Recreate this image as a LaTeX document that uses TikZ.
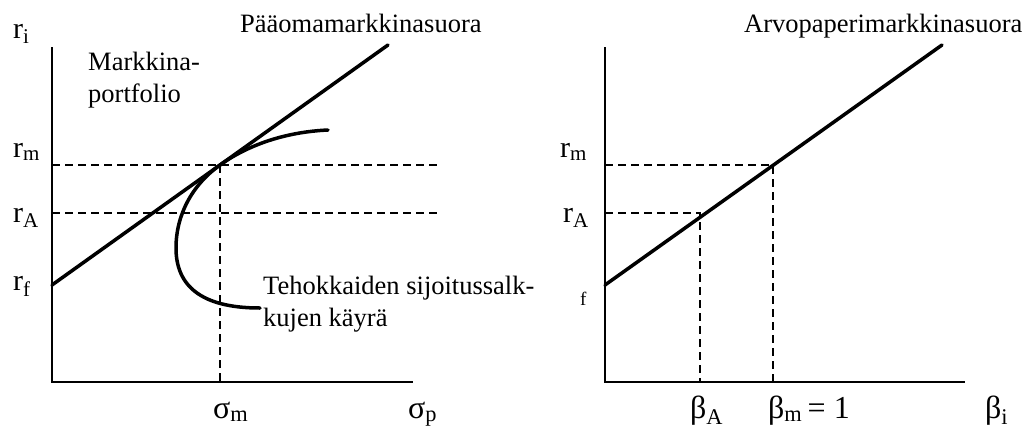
\documentclass[tikz,border=0pt]{standalone}
\usepackage{fontspec}
\setmainfont{Liberation Serif}
\usetikzlibrary{positioning}
\begin{document}
\begin{tikzpicture}[x=1pt,y=-1pt,
      axis/.style={line width=2pt},
      market/.style={line width=3.5pt,line cap=round},
      guide/.style={line width=1.3pt,dash pattern=on 8pt off 5pt},
      lbl/.style={font=\fontsize{30}{32}\selectfont,inner sep=0pt,anchor=base west},
      greek/.style={lbl,font=\fontsize{32}{34}\selectfont},
      txt/.style={font=\fontsize{26.5}{31.5}\selectfont,inner sep=0pt,anchor=base west,align=left}
    ]
      \useasboundingbox (0,0) rectangle (1028,429);
      % Paaomamarkkinasuora (left chart)
      \coordinate (lo) at (52,382);
      \coordinate (ltop) at (52,47);
      \coordinate (lend) at (413,382);
      \coordinate (lf) at (52,285);
      \coordinate (lcml) at (388,45);
      \coordinate (lm) at (220,165);
      \draw[axis] (ltop) -- (lo) -- (lend);
      \draw[guide] (52,165) -- (437,165);
      \draw[guide] (52,213) -- (437,213);
      \draw[guide] (lm) -- (220,382);
      \draw[market] (lf) -- (lcml);
      \draw[market] (328,130) .. controls (285,132) and (248,145) .. (lm)
        .. controls (192,185) and (176,215) .. (176,248)
        .. controls (176,285) and (200,308) .. (260,308);
      \node[lbl] (ri) at (13,38) {r\textsubscript{i}};
      \node[lbl] (rm) at (13,157) {r\textsubscript{m}};
      \node[lbl] (ra) at (13,222) {r\textsubscript{A}};
      \node[lbl] (rf) at (13,290) {r\textsubscript{f}};
      \node[greek] (sm) at (213,418) {σ\textsubscript{m}};
      \node[greek] (sp) at (408,418) {σ\textsubscript{p}};
      \node[txt] (cml) at (240,32) {Pääomamarkkinasuora};
      \node[txt] (mp) at (88,102) {Markkina-\\portfolio};
      \node[txt] (eff) at (263,326) {Tehokkaiden sijoitussalk-\\kujen käyrä};
      % Arvopaperimarkkinasuora (right chart)
      \coordinate (ro) at (605,382);
      \coordinate (rtop) at (605,47);
      \coordinate (rend) at (965,382);
      \coordinate (rf0) at (605,285);
      \coordinate (rsml) at (942,45);
      \coordinate (rmk) at (773,165);
      \coordinate (rak) at (700,213);
      \draw[axis] (rtop) -- (ro) -- (rend);
      \draw[guide] (605,165) -- (rmk) -- (773,382);
      \draw[guide] (605,213) -- (rak) -- (700,382);
      \draw[market] (rf0) -- (rsml);
      \node[lbl] (rrm) at (560,157) {r\textsubscript{m}};
      \node[lbl] (rra) at (563,222) {r\textsubscript{A}};
      \node[lbl,font=\fontsize{19}{20}\selectfont] (rrf) at (580,305) {f};
      \node[greek] (ba) at (690,418) {β\textsubscript{A}};
      \node[greek] (bm) at (768,418) {β\textsubscript{m}\,= 1};
      \node[greek] (bi) at (985,418) {β\textsubscript{i}};
      \node[txt] (sml) at (744,32) {Arvopaperimarkkinasuora};
    \end{tikzpicture}
\end{document}
